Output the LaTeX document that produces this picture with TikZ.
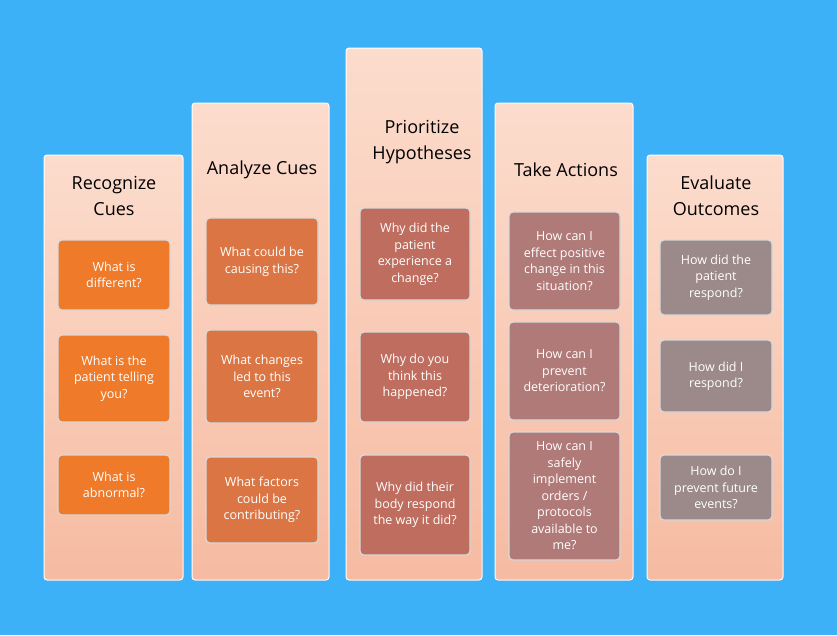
\documentclass[tikz,border=0pt]{standalone}
\usepackage{fontspec}
\setmainfont{Open Sans}
\definecolor{bg}{HTML}{3DB1F7}
\definecolor{colA}{HTML}{FCDCCD}
\definecolor{colB}{HTML}{F6BBA2}
\definecolor{c1}{HTML}{EE7A2A}
\definecolor{c2}{HTML}{DB7644}
\definecolor{c3}{HTML}{BE6D5E}
\definecolor{c4}{HTML}{B07A78}
\definecolor{c5}{HTML}{9C8A8B}
\tikzset{x=1pt,y=-1pt,
 column/.style={rounded corners=3pt,top color=colA,bottom color=colB,draw=white,line width=1pt},
 head/.style={font=\fontsize{18}{26}\selectfont,align=center,text=black},
 qbox/.style={rounded corners=4pt,draw=white!85!black,line width=1.2pt,text=white,align=center,font=\fontsize{12.5}{16.5}\selectfont,inner sep=2pt}}
\newcommand{\qb}[7]{\node[qbox,fill=#6,minimum width=#3-#2,minimum height=#5-#4] (#7) at ({(#2+#3)/2},{(#4+#5)/2}) {#1};}
\begin{document}
\begin{tikzpicture}
\fill[bg] (0,0) rectangle (837,635);
\useasboundingbox (0,0) rectangle (837,635);
\filldraw[column] (44,155) rectangle (183,580);
\filldraw[column] (192,103) rectangle (329,580);
\filldraw[column] (346,48) rectangle (482,580);
\filldraw[column] (495,103) rectangle (633,580);
\filldraw[column] (647,155) rectangle (783,580);
\node[head] (h1) at (114,196) {Recognize\\Cues};
\node[head] (h2) at (262,170) {Analyze Cues};
\node[head] (h3) at (422,142) {Prioritize\\Hypotheses};
\node[head] (h4) at (566,170) {Take Actions};
\node[head] (h5) at (716,196) {Evaluate\\Outcomes};
\qb{What is\\different?}{58}{170}{240}{310}{c1}{a1}
\qb{What is the\\patient telling\\you?}{58}{170}{335}{422}{c1}{a2}
\qb{What is\\abnormal?}{58}{170}{455}{515}{c1}{a3}
\qb{What could be\\causing this?}{206}{318}{218}{305}{c2}{b1}
\qb{What changes\\led to this\\event?}{206}{318}{330}{423}{c2}{b2}
\qb{What factors\\could be\\contributing?}{206}{318}{457}{543}{c2}{b3}
\qb{Why did the\\patient\\experience a\\change?}{360}{470}{208}{300}{c3}{d1}
\qb{Why do you\\think this\\happened?}{360}{470}{332}{422}{c3}{d2}
\qb{Why did their\\body respond\\the way it did?}{360}{470}{455}{555}{c3}{d3}
\qb{How can I\\effect positive\\change in this\\situation?}{509}{620}{212}{310}{c4}{e1}
\qb{How can I\\prevent\\deterioration?}{509}{620}{322}{420}{c4}{e2}
\qb{How can I\\safely\\implement\\orders /\\protocols\\available to\\me?}{509}{620}{432}{560}{c4}{e3}
\qb{How did the\\patient\\respond?}{660}{772}{240}{315}{c5}{f1}
\qb{How did I\\respond?}{660}{772}{340}{412}{c5}{f2}
\qb{How do I\\prevent future\\events?}{660}{772}{455}{520}{c5}{f3}
\end{tikzpicture}
\end{document}
